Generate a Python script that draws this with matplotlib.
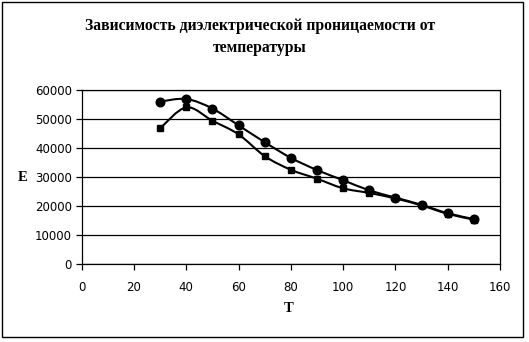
import numpy as np
import matplotlib
matplotlib.use("Agg")
import matplotlib.pyplot as plt
from matplotlib.path import Path
from matplotlib.patches import PathPatch, Rectangle

# data
T = [30, 40, 50, 60, 70, 80, 90, 100, 110, 120, 130, 140, 150]
E_circle = [56000, 56900, 53600, 47800, 42000, 36600, 32400, 28900, 25400, 22900, 20400, 17500, 15500]
E_square = [46800, 54000, 49400, 44700, 37200, 32500, 29400, 26100, 24500, 22600, 20200, 17300, 15300]

title = "Зависимость диэлектрической проницаемости от\nтемпературы"
x_ticks = [0, 20, 40, 60, 80, 100, 120, 140, 160]
y_ticks = [0, 10000, 20000, 30000, 40000, 50000, 60000]


def smooth_path(x, y):
    # Excel-style smoothed line (Catmull-Rom as cubic Bezier)
    p = np.column_stack([x, y]).astype(float)
    n = len(p)
    verts = [p[0]]
    codes = [Path.MOVETO]
    for i in range(n - 1):
        p0 = p[max(i - 1, 0)]; p1 = p[i]; p2 = p[i + 1]; p3 = p[min(i + 2, n - 1)]
        verts += [p1 + (p2 - p0) / 6, p2 - (p3 - p1) / 6, p2]
        codes += [Path.CURVE4] * 3
    return Path(verts, codes)


W, H = 529, 342
fig = plt.figure(figsize=(W / 100, H / 100), dpi=100)
fig.patches.append(Rectangle((2 / W, 5 / H), 521 / W, 335 / H, transform=fig.transFigure,
                             fill=False, edgecolor="black", linewidth=1.0))

ax = fig.add_axes([81.7 / W, 1 - 264 / H, (500 - 81.7) / W, (264 - 90) / H])

for ys, mk, ms in [(E_circle, "o", 6.2), (E_square, "s", 3.8)]:
    ax.add_patch(PathPatch(smooth_path(T, ys), fill=False, edgecolor="black", linewidth=1.5))
    ax.plot(T, ys, linestyle="none", marker=mk, markersize=ms, color="black")

ax.set_xlim(0, 160)
ax.set_ylim(0, 60000)
ax.set_xticks(x_ticks)
ax.set_yticks(y_ticks)
ax.yaxis.grid(True, color="black", linewidth=0.9)
ax.set_axisbelow(True)
for s in ax.spines.values():
    s.set_linewidth(0.9)
ax.tick_params(direction="out", length=4, width=0.9, labelsize=8.5, colors="black", pad=3)
ax.tick_params(axis="x", pad=8)

fig.text(260 / W, 1 - 37 / H, title, ha="center", va="center", fontsize=11.3,
         fontweight="bold", family="Liberation Serif", linespacing=1.55)
fig.text(22.5 / W, 1 - 177 / H, "E", ha="center", va="center", fontsize=10.5,
         fontweight="bold", family="Liberation Serif")
fig.text(289 / W, 1 - 309 / H, "T", ha="center", va="center", fontsize=10.5,
         fontweight="bold", family="Liberation Serif")

fig.savefig("out.png", dpi=100)
